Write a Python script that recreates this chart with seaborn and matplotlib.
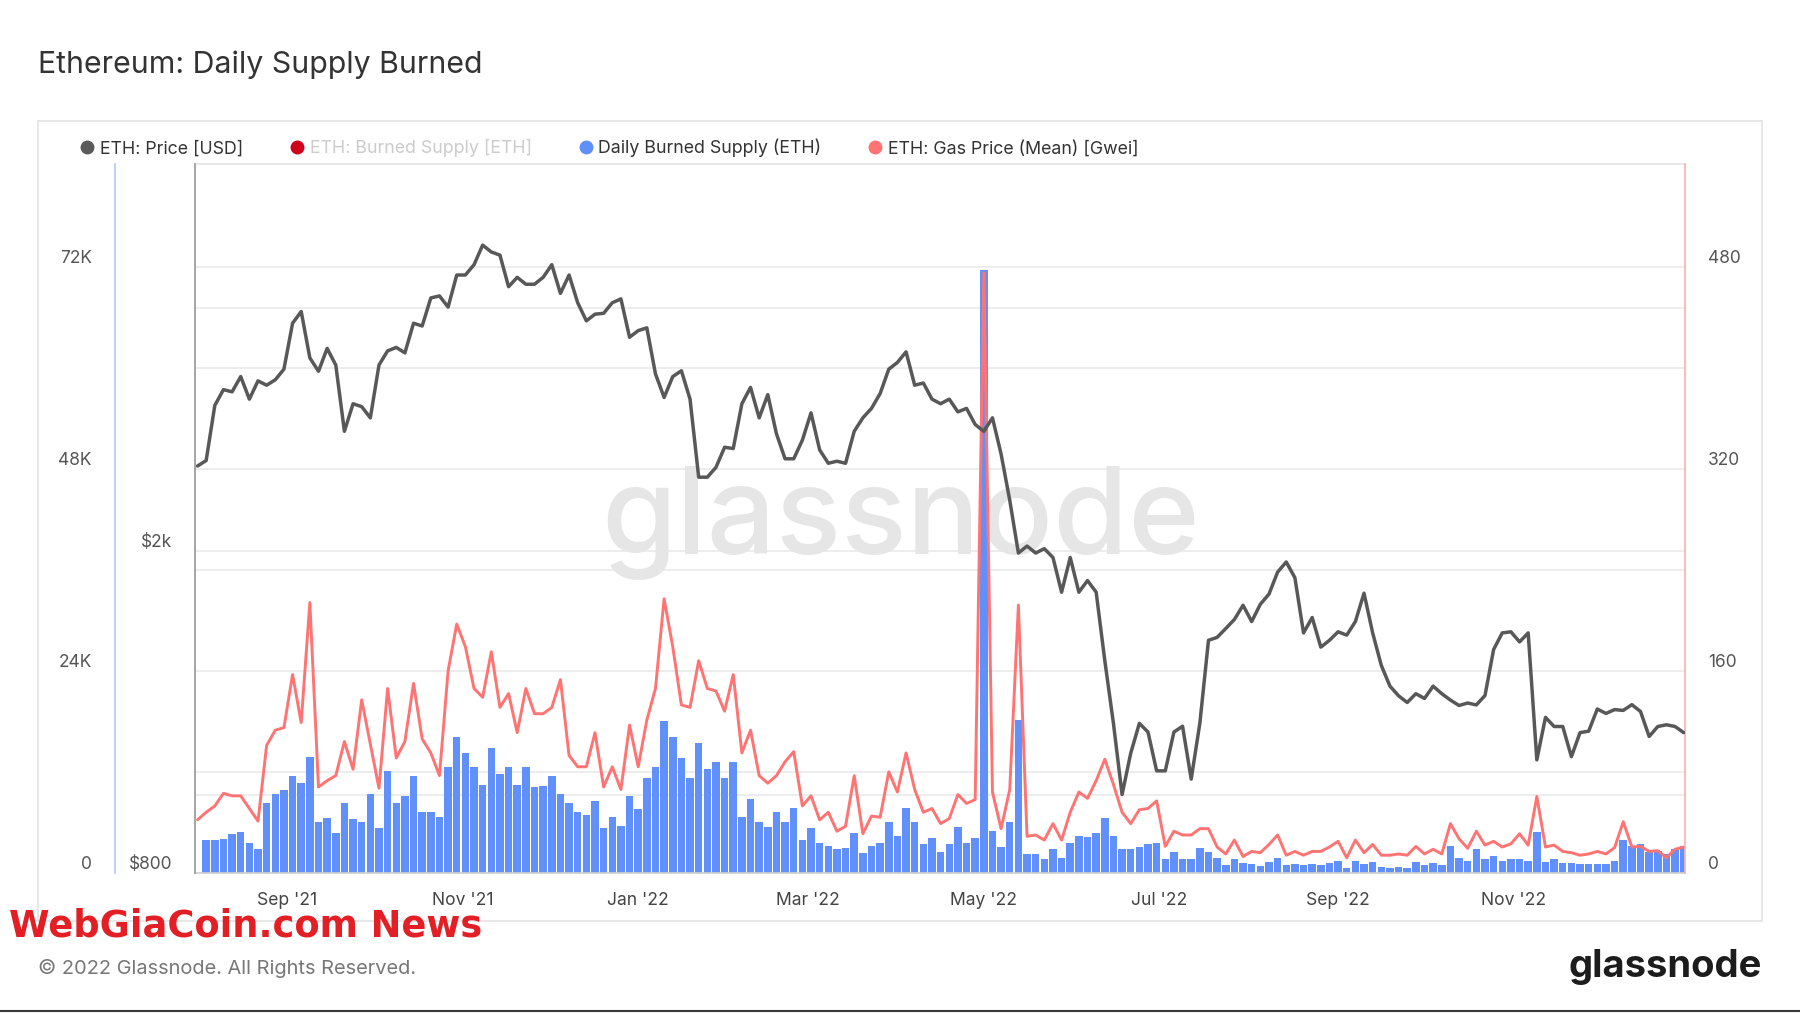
import pandas as pd
import seaborn as sns
import matplotlib.pyplot as plt
from matplotlib import transforms
from matplotlib.lines import Line2D
from matplotlib.patches import Rectangle
from matplotlib.ticker import NullLocator, NullFormatter

# values, one point every 3 days starting 2021-08-01
price_usd = [
    2550, 2590, 3030, 3170, 3150, 3290, 3085, 3250, 3210, 3260, 3360, 3830, 3960, 3470, 3340,
    3565, 3400, 2815, 3045, 3020, 2925, 3400, 3540, 3575, 3520, 3830, 3800, 4116, 4140,
    4010, 4394, 4394, 4525, 4785, 4692, 4650, 4250, 4365, 4280, 4280, 4365, 4525, 4170, 4394,
    4060, 3856, 3930, 3940, 4060, 4105, 3680, 3750, 3780, 3315, 3100, 3290, 3345, 3085,
    2470, 2470, 2540, 2690, 2680, 3045, 3190, 2925, 3125, 2795, 2603, 2603, 2745, 2967, 2670,
    2570, 2585, 2570, 2815, 2925, 3005, 3135, 3360, 3425, 3530, 3210, 3230, 3085, 3045,
    3085, 2975, 3005, 2870, 2815, 2925, 2638, 2313, 1990, 2030, 1990, 2015, 1965, 1780, 1965,
    1780, 1840, 1780, 1465, 1225, 1000, 1125, 1225, 1195, 1070, 1070, 1195, 1215, 1045,
    1225, 1552, 1565, 1605, 1647, 1715, 1637, 1720, 1770, 1885, 1940, 1855, 1585, 1656, 1522,
    1552, 1590, 1575, 1637, 1775, 1585, 1445, 1362, 1325, 1300, 1333, 1315, 1362, 1333,
    1309, 1289, 1298, 1291, 1326, 1512, 1585, 1590, 1545, 1585, 1104, 1246, 1214, 1214, 1114,
    1193, 1198, 1276, 1260, 1274, 1271, 1292, 1267, 1180, 1214, 1220, 1214, 1193,
]
gas_gwei = [
    42, 48, 53, 63, 61, 61, 51, 41, 101, 113, 115, 157, 119, 214, 68,
    73, 77, 104, 82, 137, 102, 67, 146, 91, 104, 150, 106, 95, 77,
    160, 197, 179, 146, 139, 175, 131, 142, 111, 146, 126, 126, 131, 153, 93,
    84, 84, 111, 68, 84, 66, 117, 84, 121, 146, 217, 179, 133, 131,
    168, 146, 144, 128, 157, 95, 113, 77, 71, 77, 88, 96, 53, 61, 42,
    48, 33, 37, 77, 31, 45, 44, 80, 64, 95, 66, 48, 51, 39,
    43, 62, 55, 58, 475, 64, 35, 66, 212, 29, 30, 26, 39, 26, 48,
    64, 59, 73, 90, 70, 48, 39, 50, 51, 57, 21, 33, 30, 30,
    35, 35, 20.5, 15, 26, 13, 17, 16, 22.5, 30, 14, 17, 14, 17, 17,
    20.5, 25, 12, 26, 16, 22.5, 14, 14, 15, 14, 21, 15, 18.7, 15,
    39, 27, 19.5, 33, 22, 25, 20.5, 23, 31, 22, 60.5, 20.5, 22, 17, 16,
    14, 15, 17, 15, 20, 40.5, 20.5, 21, 17, 17.6, 12, 18.7, 20.5,
]
# daily burned supply, thousands of ETH
burned_k = [
    0, 3.9, 3.9, 4.0, 4.6, 4.9, 3.6, 2.8, 8.3, 9.4, 9.9, 11.5, 10.7, 13.8, 6.1,
    6.5, 4.7, 8.3, 6.4, 6.1, 9.4, 5.3, 12.1, 8.3, 9.1, 11.5, 7.2, 7.2, 6.6,
    12.6, 16.2, 14.3, 12.6, 10.5, 14.8, 11.8, 12.6, 10.5, 12.6, 10.2, 10.3, 11.5, 9.4, 8.3,
    7.2, 6.9, 8.5, 5.3, 6.6, 5.6, 9.1, 7.6, 11.3, 12.6, 18.1, 16.2, 13.7, 11.3,
    15.4, 12.4, 13.2, 11.3, 13.2, 6.7, 8.8, 6.1, 5.5, 7.2, 6.1, 7.7, 3.9, 5.3, 3.5,
    3.2, 2.8, 3.0, 4.7, 2.4, 3.2, 3.6, 6.1, 4.4, 7.7, 6.1, 3.4, 4.2, 2.5,
    3.4, 5.5, 3.6, 4.2, 71.6, 5.0, 3.1, 6.1, 18.2, 2.3, 2.2, 1.6, 2.8, 1.8, 3.6,
    4.4, 4.3, 4.7, 6.5, 4.4, 2.8, 2.8, 3.1, 3.4, 3.6, 1.7, 2.5, 1.7, 1.7,
    3.0, 2.5, 1.8, 0.9, 1.7, 1.2, 1.1, 0.85, 1.3, 1.8, 0.9, 1.0, 0.9, 1.0, 0.9,
    1.2, 1.4, 0.6, 1.4, 1.0, 1.3, 0.7, 0.6, 0.7, 0.6, 1.3, 0.9, 1.2, 0.9,
    3.2, 1.8, 1.4, 2.8, 1.7, 2.0, 1.4, 1.6, 1.6, 1.4, 4.9, 1.3, 1.6, 1.2, 1.2,
    1.1, 1.1, 1.1, 1.1, 1.4, 3.9, 3.2, 3.4, 2.5, 2.6, 2.3, 2.8, 3.2,
]

tick_dates = ["2021-09-01", "2021-11-01", "2022-01-01", "2022-03-01",
              "2022-05-01", "2022-07-01", "2022-09-01", "2022-11-01"]
tick_labels = ["Sep '21", "Nov '21", "Jan '22", "Mar '22",
               "May '22", "Jul '22", "Sep '22", "Nov '22"]

legend_names = ["ETH: Price [USD]", "ETH: Burned Supply [ETH]",
                "Daily Burned Supply (ETH)", "ETH: Gas Price (Mean) [Gwei]"]
legend_colors = ["#5a5a5a", "#d0021b", "#5f8ffa", "#ff7373"]

dates = pd.date_range("2021-08-01", periods=len(price_usd), freq="3D")
df = pd.DataFrame({"date": dates, "price": price_usd, "gas": gas_gwei, "burned": burned_k})

sns.set_theme(style="white")
plt.rcParams["font.family"] = ["Inter", "DejaVu Sans"]

fig = plt.figure(figsize=(18, 10.13), dpi=100)
ax = fig.add_axes([0.1084, 0.1383, 0.8278, 0.6996])
ax_gas = ax.twinx()
ax_price = ax.twinx()
for a in (ax, ax_gas, ax_price):
    a.set_facecolor("none")
    for s in a.spines.values():
        s.set_visible(False)
# blue axis line sits left of the plot
ax.spines["left"].set_position(("axes", -0.0539))

# watermark
ax.text(0.4734, 0.494, "glassnode", transform=ax.transAxes, ha="center", va="center",
        fontsize=87.5, color="#e6e6e6", fontweight="medium", zorder=0.5)

# grid lines (left axis + hidden axes + price axis)
for v in [12, 24, 36, 48, 60, 72]:
    ax.axhline(v, color="#e8e8e8", lw=1.1, zorder=0.3)
blend = transforms.blended_transform_factory(ax.transAxes, ax_price.transData)
for v in [1000, 2000, 4000]:
    ax.plot([0, 1], [v, v], transform=blend, color="#e8e8e8", lw=1.1, zorder=0.3)

ax.bar(df["date"], df["burned"], width=2.6, color="#6190fa", linewidth=0, zorder=1)
sns.lineplot(data=df, x="date", y="gas", ax=ax_gas, color="#ff7373", linewidth=2.1)
sns.lineplot(data=df, x="date", y="price", ax=ax_price, color="#585858", linewidth=2.5)

for a in (ax, ax_gas, ax_price):
    a.set_xlabel("")
    a.set_ylabel("")
    a.grid(False)

ax.set_xlim(pd.Timestamp("2021-07-31 04:00"), pd.Timestamp("2022-12-30 12:00"))
ax.set_xticks(pd.to_datetime(tick_dates))
ax.set_xticklabels(tick_labels)
ax.tick_params(axis="x", length=6, color="#dddddd", pad=8, labelsize=12.6, labelcolor="#444444")

# left axis (burned supply)
ax.spines["left"].set_visible(True)
ax.spines["left"].set_color("#b3c8ff")
ax.spines["top"].set_visible(True)
ax.spines["top"].set_color("#e6e6e6")
ax.spines["bottom"].set_visible(True)
ax.spines["bottom"].set_color("#cfcfcf")
ax.tick_params(axis="y", length=0, pad=16.5, labelsize=12.5, labelcolor="#555555")
ax.set_ylim(0, 84.2)
ax.set_yticks([0, 24, 48, 72])
ax.set_yticklabels(["0", "24K", "48K", "72K"], va="bottom")

# right axis (gas)
ax_gas.spines["right"].set_visible(True)
ax_gas.spines["right"].set_color("#ffb0b0")
ax_gas.tick_params(axis="y", length=0, pad=16.5, labelsize=12.5, labelcolor="#555555")
ax_gas.set_ylim(0, 561)
ax_gas.set_yticks([0, 160, 320, 480])
ax_gas.set_yticklabels(["0", "160", "320", "480"], va="bottom")

# price axis (log)
ax_price.set_yscale("log")
ax_price.set_ylim(800, 6025)
ax_price.yaxis.set_ticks_position("left")
ax_price.spines["left"].set_visible(True)
ax_price.spines["left"].set_color("#9a9a9a")
ax_price.yaxis.set_minor_locator(NullLocator())
ax_price.yaxis.set_minor_formatter(NullFormatter())
ax_price.tick_params(axis="y", which="both", length=0, pad=16.5, labelsize=12.5,
                     labelcolor="#555555")
ax_price.set_yticks([800, 2000])
ax_price.set_yticklabels(["$800", "$2k"], va="bottom")

# legend
handles = [Line2D([], [], marker="o", linestyle="none", color=c, markersize=9)
           for c in legend_colors]
leg = fig.legend(handles, legend_names, loc="center left", bbox_to_anchor=(0.0445, 0.8537),
                 ncol=4, frameon=False, fontsize=12.8, handlelength=0.8, handletextpad=0.31,
                 columnspacing=2.63, borderpad=0, borderaxespad=0)
for t, c in zip(leg.get_texts(), ["#333333", "#cccccc", "#333333", "#333333"]):
    t.set_color(c)

# frame, title and footer
fig.add_artist(Rectangle((0.021, 0.0907), 0.958, 0.7903, transform=fig.transFigure,
                         fill=False, edgecolor="#e3e3e3", lw=1.2, zorder=-1))
fig.text(0.021, 0.9365, "Ethereum: Daily Supply Burned", fontsize=21.8, color="#333333",
         va="center")
fig.text(0.021, 0.0442, "\u00a9 2022 Glassnode. All Rights Reserved.", fontsize=14.4,
         color="#777777", va="center")
fig.text(0.979, 0.0453, "glassnode", ha="right", va="center", fontsize=27.5,
         fontweight="bold", color="#1c1c1c")
fig.text(0.005, 0.0862, "WebGiaCoin.com News", fontsize=26.5, fontweight="heavy",
         color="#e31e24", va="center", family=["DejaVu Sans"])
fig.add_artist(Line2D([0, 1], [0.0015, 0.0015], transform=fig.transFigure,
                      color="#3a3a3a", lw=1.5))

fig.savefig("out.png", dpi=100)
